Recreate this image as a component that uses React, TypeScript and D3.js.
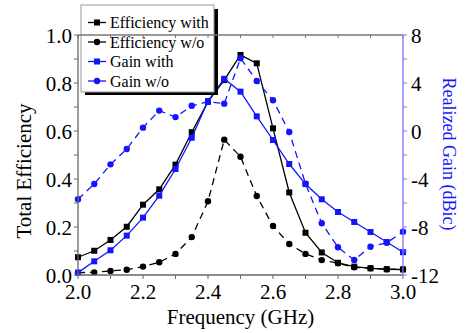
import React from "react";
import * as d3 from "d3";

const freq = [2.0, 2.05, 2.1, 2.15, 2.2, 2.25, 2.3, 2.35, 2.4, 2.45, 2.5, 2.55, 2.6, 2.65, 2.7, 2.75, 2.8, 2.85, 2.9, 2.95, 3.0];
const effWith = [0.074, 0.101, 0.146, 0.201, 0.293, 0.357, 0.46, 0.595, 0.722, 0.812, 0.917, 0.882, 0.611, 0.344, 0.176, 0.094, 0.051, 0.035, 0.028, 0.024, 0.023];
const effWo = [0.01, 0.011, 0.017, 0.022, 0.035, 0.053, 0.088, 0.158, 0.307, 0.564, 0.493, 0.329, 0.204, 0.129, 0.088, 0.062, 0.049, 0.032, 0.028, 0.024, 0.024];
const gainWith = [-11.8, -10.86, -9.94, -8.72, -7.22, -5.39, -3.17, -0.56, 2.5, 4.35, 3.28, 1.22, -0.75, -2.75, -4.42, -5.69, -6.75, -7.58, -8.42, -9.25, -10.1];
const gainWo = [-5.69, -4.42, -2.78, -1.5, 0.28, 1.7, 1.16, 2.1, 2.44, 2.28, 6.06, 4.17, 2.56, -0.08, -4.4, -7.69, -9.69, -10.75, -9.64, -9.31, -8.4];

const xTickLabels = ["2.0", "2.2", "2.4", "2.6", "2.8", "3.0"];
const yLeftTickLabels = ["0.0", "0.2", "0.4", "0.6", "0.8", "1.0"];
const yRightTickLabels = ["-12", "-8", "-4", "0", "4", "8"];
const legendLabels = ["Efficiency with", "Efficiency w/o", "Gain with", "Gain w/o"];

const W = 465, H = 333;
const L = 78, R = 403, T = 35, B = 275;
const BLUE = "#1414ff";
const FONT = '"Liberation Serif", Tinos, "Times New Roman", "DejaVu Serif", serif';

export default function App() {
  const x = d3.scaleLinear().domain([2.0, 3.0]).range([L, R]);
  const yL = d3.scaleLinear().domain([0, 1]).range([B, T]);
  const yR = d3.scaleLinear().domain([-12, 8]).range([B, T]);

  const lineL = d3.line<number>().x((_, i) => x(freq[i])).y((d) => yL(d));
  const lineR = d3.line<number>().x((_, i) => x(freq[i])).y((d) => yR(d));

  const xMinor = x.ticks(10);
  const yLMinor = yL.ticks(10);
  const yRMinor = d3.range(-12, 8.01, 2);

  const series = [
    { data: effWith, path: lineL(effWith), scale: yL, color: "#000", dash: undefined, marker: "square" },
    { data: effWo, path: lineL(effWo), scale: yL, color: "#000", dash: "7,5", marker: "circle" },
    { data: gainWith, path: lineR(gainWith), scale: yR, color: BLUE, dash: undefined, marker: "square" },
    { data: gainWo, path: lineR(gainWo), scale: yR, color: BLUE, dash: "7,5", marker: "circle" },
  ];

  const marker = (m: string, cx: number, cy: number, color: string, key: any) =>
    m === "square" ? (
      <rect key={key} x={cx - 3} y={cy - 3} width={6} height={6} fill={color} />
    ) : (
      <circle key={key} cx={cx} cy={cy} r={3.2} fill={color} />
    );

  const legRows = [22.5, 42, 61.5, 81];
  const ts = { fontFamily: FONT };

  return (
    <svg width={W} height={H} style={{ position: "absolute", left: 0, top: 0, background: "#fff", fontFamily: FONT }}>
      {series.map((s, si) => (
        <g key={si}>
          <path d={s.path || ""} fill="none" stroke={s.color} strokeWidth={1.3} strokeDasharray={s.dash} />
          {s.data.map((v, i) => marker(s.marker, x(freq[i]), s.scale(v), s.color, i))}
        </g>
      ))}

      <rect x={85} y={9} width={133} height={86} fill="#000" />
      <rect x={81} y={5} width={133} height={87} fill="#fff" stroke="#999" strokeWidth={1} />
      {legendLabels.map((lab, i) => {
        const s = series[i];
        return (
          <g key={lab}>
            <line x1={88} x2={106} y1={legRows[i]} y2={legRows[i]} stroke={s.color} strokeWidth={1.3} />
            {marker(s.marker, 97, legRows[i], s.color, "m")}
            <text style={ts} x={110} y={legRows[i] + 5.5} fontSize={16} fill="#000">{lab}</text>
          </g>
        );
      })}

      <line x1={L} x2={R} y1={T} y2={T} stroke="#777" strokeWidth={1.3} />
      {xMinor.map((t) => (
        <line key={"tt" + t} x1={x(t)} x2={x(t)} y1={T} y2={T + 3} stroke="#777" strokeWidth={1} />
      ))}
      <line x1={L} x2={L} y1={T} y2={B} stroke="#666" strokeWidth={1.3} />
      <line x1={L} x2={R} y1={B} y2={B} stroke="#666" strokeWidth={1.3} />
      <line x1={R} x2={R} y1={T} y2={B} stroke="#7777ff" strokeWidth={1.3} />

      {xMinor.map((t) => (
        <line key={"bt" + t} x1={x(t)} x2={x(t)} y1={B} y2={B + 4} stroke="#666" strokeWidth={1} />
      ))}
      {xTickLabels.map((lab) => (
        <text style={ts} key={lab} x={x(+lab)} y={298.5} fontSize={21} textAnchor="middle" fill="#000">{lab}</text>
      ))}
      <text style={ts} x={(L + R) / 2} y={324} fontSize={21} textAnchor="middle" fill="#000">Frequency (GHz)</text>

      {yLMinor.map((t) => (
        <line key={"lt" + t} x1={L - 4} x2={L} y1={yL(t)} y2={yL(t)} stroke="#666" strokeWidth={1} />
      ))}
      {yLeftTickLabels.map((lab) => (
        <text style={ts} key={lab} x={72} y={yL(+lab) + 7.5} fontSize={21} textAnchor="end" fill="#000">{lab}</text>
      ))}
      <text style={ts} transform={`translate(31,171) rotate(-90)`} fontSize={21} textAnchor="middle" fill="#000">Total Efficiency</text>

      {yRMinor.map((t) => (
        <line key={"rt" + t} x1={R} x2={R + 4} y1={yR(t)} y2={yR(t)} stroke="#7777ff" strokeWidth={1} />
      ))}
      {yRightTickLabels.map((lab) => (
        <text style={ts} key={lab} x={411} y={yR(+lab) + 7.5} fontSize={21} textAnchor="start" fill="#000">{lab}</text>
      ))}
      <text style={ts} transform={`translate(443,154) rotate(90)`} fontSize={18} textAnchor="middle" fill={BLUE}>Realized Gain (dBic)</text>
    </svg>
  );
}
